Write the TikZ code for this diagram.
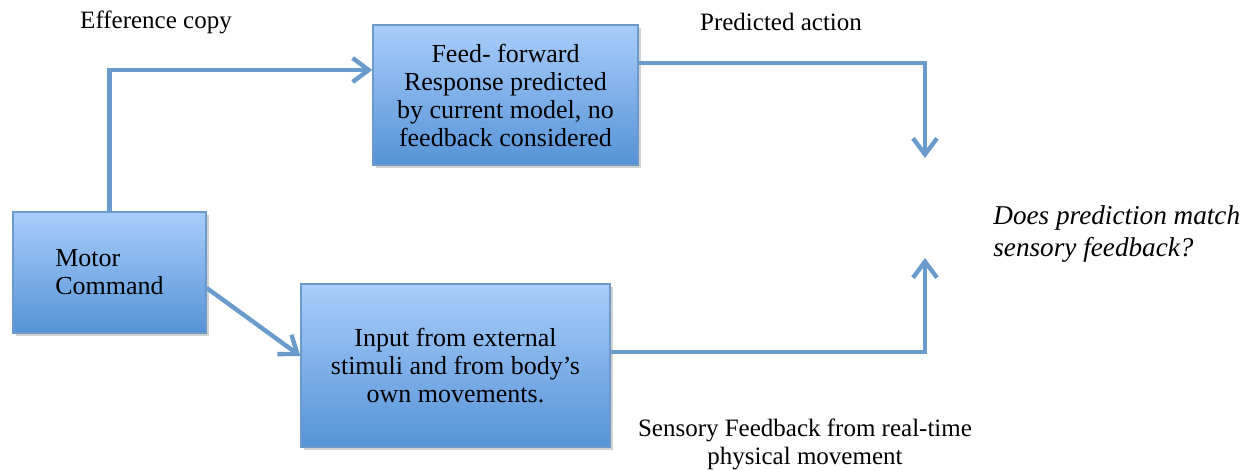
\documentclass[tikz,border=0pt]{standalone}
\usepackage{fontspec}
\setmainfont{Liberation Serif}
\usetikzlibrary{arrows.meta}
\usetikzlibrary{shadows}
\definecolor{boxtop}{HTML}{A9CDFB}
\definecolor{boxbottom}{HTML}{5593D7}
\definecolor{boxedge}{HTML}{6D9ACB}
\definecolor{flowblue}{HTML}{6A9BCD}

\begin{document}
\begin{tikzpicture}[x=0.5pt,y=-0.5pt,
  blockbox/.style={draw=boxedge, line width=0.7pt, top color=boxtop, bottom color=boxbottom,
    drop shadow={shadow xshift=1.5pt, shadow yshift=-1.5pt, opacity=0.35},
    inner sep=0pt, align=center, font=\fontsize{13}{14}\selectfont},
  flow/.style={draw=flowblue, line width=2.2pt, -{Straight Barb[length=8pt,width=12pt]}},
  lbl/.style={font=\fontsize{12.5}{14}\selectfont, align=center, inner sep=0pt}]
\useasboundingbox (0,0) rectangle (1259,470);
\node[blockbox, minimum width=96.5pt, minimum height=60.5pt, align=left] (motor) at (109.5,272.5) {Motor\\Command};
\node[blockbox, minimum width=132.5pt, minimum height=70pt] (feed) at (505.5,95) {Feed- forward\\Response predicted\\by current model, no\\feedback considered};
\node[blockbox, minimum width=154.5pt, minimum height=81.5pt] (input) at (455.5,365.5) {Input from external\\stimuli and from body’s\\own movements.};
\coordinate (predtip) at (925,158);
\coordinate (sensetip) at (925,258);
\draw[flow] (motor.north) |- ([yshift=12.5pt]feed.west);
\draw[flow] ([yshift=16pt]feed.east) -| (predtip);
\draw[flow] ([yshift=-7.75pt]motor.east) -- ([yshift=4.75pt]input.west);
\draw[flow] ([yshift=6.75pt]input.east) -| (sensetip);
\node[lbl] (effcopy) at (156,22) {Efference copy};
\node[lbl] (predact) at (781,22) {Predicted action};
\node[lbl, align=left, anchor=west, font=\fontsize{13.6}{16}\selectfont\itshape] (match) at (993,234) {Does prediction match\\sensory feedback?};
\node[lbl] (sensefb) at (805,444) {Sensory Feedback from real-time\\physical movement};
\end{tikzpicture}
\end{document}
